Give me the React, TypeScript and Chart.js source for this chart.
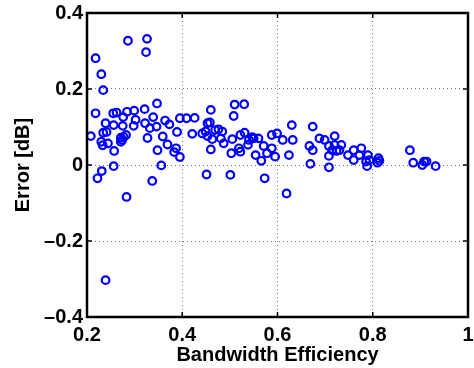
import React, { useEffect, useRef } from "react";
import { Chart, registerables } from "chart.js";

Chart.register(...registerables);

// Bandwidth efficiency (x) and error in dB (y) for each measurement
const efficiency = [
  0.218, 0.230, 0.234, 0.286, 0.326, 0.324, 0.239,
  0.218, 0.208, 0.239, 0.234, 0.241, 0.230, 0.233, 0.244, 0.257, 0.255,
  0.262, 0.256, 0.275, 0.276, 0.284, 0.299, 0.298, 0.302, 0.271, 0.274,
  0.277, 0.282, 0.271, 0.321, 0.347, 0.322, 0.339, 0.332, 0.346, 0.327,
  0.359, 0.364, 0.373, 0.389, 0.395, 0.348, 0.369, 0.383, 0.387, 0.395,
  0.256, 0.356, 0.231, 0.222, 0.337, 0.283,
  0.409, 0.426, 0.460, 0.510, 0.530, 0.508, 0.421, 0.453, 0.458, 0.442,
  0.449, 0.453, 0.463, 0.469, 0.476, 0.484, 0.481, 0.487, 0.460, 0.505,
  0.503, 0.522, 0.531, 0.519, 0.522, 0.540, 0.550, 0.560, 0.554, 0.571,
  0.566, 0.578, 0.588, 0.599, 0.588, 0.595, 0.451, 0.501, 0.573, 0.538,
  0.547,
  0.611, 0.630, 0.632, 0.624, 0.619, 0.674, 0.667, 0.674, 0.669, 0.688,
  0.699, 0.720, 0.708, 0.708, 0.708, 0.720, 0.715, 0.724, 0.734, 0.730,
  0.748, 0.760, 0.760, 0.776, 0.772, 0.790, 0.786, 0.793, 0.788,
  0.812, 0.814, 0.810, 0.878, 0.885, 0.904, 0.908, 0.913, 0.932,
];

const errorDb = [
  0.281, 0.239, 0.197, 0.327, 0.332, 0.297, -0.303,
  0.136, 0.076, 0.110, 0.085, 0.087, 0.061, 0.052, 0.057, 0.037, 0.136,
  0.138, 0.105, 0.103, 0.126, 0.140, 0.143, 0.103, 0.119, 0.072, 0.066,
  0.074, 0.079, 0.061, 0.147, 0.162, 0.110, 0.126, 0.097, 0.101, 0.071,
  0.075, 0.117, 0.107, 0.087, 0.123, 0.039, 0.054, 0.034, 0.044, 0.021,
  -0.003, -0.001, -0.016, -0.035, -0.042, -0.084,
  0.123, 0.124, 0.145, 0.159, 0.160, 0.129, 0.082, 0.110, 0.112, 0.083,
  0.088, 0.076, 0.068, 0.092, 0.094, 0.088, 0.070, 0.057, 0.041, 0.068,
  0.031, 0.079, 0.085, 0.044, 0.035, 0.066, 0.070, 0.070, 0.026, 0.050,
  0.011, 0.031, 0.079, 0.083, 0.044, 0.022, -0.025, -0.026, -0.035, 0.053,
  0.073,
  0.066, 0.105, 0.066, 0.026, -0.075, 0.101, 0.050, 0.039, 0.003, 0.070,
  0.066, 0.076, 0.050, 0.024, -0.006, 0.053, 0.039, 0.037, 0.053, 0.039,
  0.026, 0.039, 0.013, 0.044, 0.026, 0.026, 0.009, 0.013, -0.003,
  0.018, 0.011, 0.006, 0.039, 0.006, 0.000, 0.009, 0.009, -0.003,
];

const xTicks = [0.2, 0.4, 0.6, 0.8, 1];
const yTicks = [-0.4, -0.2, 0, 0.2, 0.4];
const xTitle = "Bandwidth Efficiency";
const yTitle = "Error [dB]";

const FONT = "'Liberation Sans', Arial, Helvetica, sans-serif";

const fmt = (v: number) => {
  const r = Math.round(v * 10) / 10;
  if (r === 0) return "0";
  return String(r).replace("-", "\u2013");
};

const boxPlugin = {
  id: "matlabBox",
  afterDatasetsDraw(chart: any) {
    const { ctx, chartArea: a, scales } = chart;
    ctx.save();
    ctx.strokeStyle = "#000";
    ctx.lineWidth = 1.5;
    const tl = 5;
    const line = (x1: number, y1: number, x2: number, y2: number) => {
      ctx.beginPath();
      ctx.moveTo(x1, y1);
      ctx.lineTo(x2, y2);
      ctx.stroke();
    };
    xTicks.forEach((v) => {
      const px = scales.x.getPixelForValue(v);
      line(px, a.bottom, px, a.bottom - tl);
      line(px, a.top, px, a.top + tl);
    });
    yTicks.forEach((v) => {
      const py = scales.y.getPixelForValue(v);
      line(a.left, py, a.left + tl, py);
      line(a.right, py, a.right - tl, py);
    });
    ctx.lineWidth = 2.5;
    ctx.strokeRect(a.left, a.top, a.right - a.left, a.bottom - a.top);
    ctx.restore();
  },
};

export default function App() {
  const ref = useRef<HTMLCanvasElement | null>(null);

  useEffect(() => {
    if (!ref.current) return;
    const points = efficiency.map((x, i) => ({ x, y: errorDb[i] }));
    const chart = new Chart(ref.current, {
      type: "scatter",
      data: {
        datasets: [
          {
            data: points,
            borderColor: "#0000ff",
            backgroundColor: "rgba(0,0,0,0)",
            borderWidth: 2.2,
            pointRadius: 3.8,
            pointHoverRadius: 3.8,
            pointStyle: "circle",
          },
        ],
      },
      plugins: [boxPlugin],
      options: {
        responsive: false,
        animation: false,
        events: [],
        layout: { padding: { top: 13, right: 3, left: 0, bottom: 0 } },
        plugins: {
          legend: { display: false },
          tooltip: { enabled: false },
        },
        scales: {
          x: {
            type: "linear",
            min: 0.2,
            max: 1,
            afterBuildTicks: (s: any) => {
              s.ticks = xTicks.map((value) => ({ value }));
            },
            afterFit: (s: any) => {
              s.height = 51;
              s.paddingLeft = 0;
              s.paddingRight = 0;
            },
            ticks: {
              autoSkip: false,
              maxRotation: 0,
              padding: 6,
              color: "#000",
              font: { family: FONT, size: 20, weight: "bold" },
              callback: (v: any) => fmt(Number(v)),
            },
            grid: {
              drawTicks: false,
              color: "rgba(0,0,0,0.55)",
              lineWidth: 1,
            },
            border: { display: false, dash: [1, 3] },
            title: {
              display: true,
              text: xTitle,
              color: "#000",
              font: { family: FONT, size: 20, weight: "bold" },
              padding: { top: 0, bottom: 1 },
            },
          },
          y: {
            type: "linear",
            min: -0.4,
            max: 0.4,
            afterBuildTicks: (s: any) => {
              s.ticks = yTicks.map((value) => ({ value }));
            },
            afterFit: (s: any) => {
              s.width = 87;
              s.paddingTop = 0;
              s.paddingBottom = 0;
            },
            ticks: {
              autoSkip: false,
              padding: 4,
              color: "#000",
              font: { family: FONT, size: 20, weight: "bold" },
              callback: (v: any) => fmt(Number(v)),
            },
            grid: {
              drawTicks: false,
              color: "rgba(0,0,0,0.55)",
              lineWidth: 1,
            },
            border: { display: false, dash: [1, 3] },
            title: {
              display: true,
              text: yTitle,
              color: "#000",
              font: { family: FONT, size: 20, weight: "bold" },
              padding: { top: 11, bottom: 0 },
            },
          },
        },
      },
    } as any);
    return () => chart.destroy();
  }, []);

  return (
    <div
      style={{
        position: "fixed",
        left: 0,
        top: 0,
        width: 474,
        height: 368,
        background: "#fff",
      }}
    >
      <canvas ref={ref} width={474} height={368} style={{ display: "block" }} />
    </div>
  );
}
